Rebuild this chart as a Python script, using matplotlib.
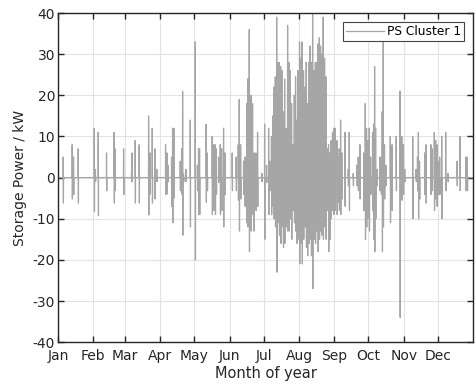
import numpy as np
import matplotlib.pyplot as plt

plt.rcParams['font.family'] = ['DejaVu Sans']
plt.rcParams['axes.unicode_minus'] = False

# Tagesspitzen der Speicherleistung (Tag im Jahr, max Laden, max Entladen) in kW
event_day = [4.7, 12.6, 13.8, 17.9, 32.0, 33.0, 35.5, 42.8, 49.5, 50.4, 57.8,
             64.8, 65.3, 68.0, 71.5, 79.8, 81.0, 83.0, 85.3, 87.0, 94.7, 95.9,
             97.0, 100.0, 100.9, 102.0, 107.6, 108.8, 109.7, 110.5, 112.6, 116.4,
             120.8, 122.7, 123.7, 124.6, 130.4, 131.4, 135.7, 136.9, 138.4, 139.3,
             141.3, 142.8, 144.0, 145.7, 146.9, 153.3, 156.8, 158.6, 159.5, 160.7,
             163.3, 164.5, 166.0, 167.0, 168.3, 169.8, 171.2, 172.4, 174.1, 175.6,
             179.4, 181.8, 183.5, 185.3,
             186.3, 187.8, 189.0, 190.0, 191.2, 192.4, 193.5, 194.7, 195.9, 197.0,
             198.2, 199.4, 200.6, 201.0, 202.0, 203.2, 204.4, 205.5, 206.7, 207.9,
             209.0, 210.2, 211.0, 212.5, 213.7, 214.8, 216.0, 217.2, 218.4, 219.5,
             220.7, 221.8, 222.8, 224.0, 225.2, 226.4, 227.5, 228.7, 229.9, 231.0,
             232.0, 233.3, 234.5, 235.7, 236.8, 238.0, 239.2, 240.3, 241.5, 242.7,
             243.8, 245.4, 246.5, 247.4, 248.6, 249.7, 252.4, 255.3, 256.2, 259.7,
             263.0, 264.1, 265.6, 268.9, 270.3, 271.4, 272.6, 273.8, 275.0, 276.7,
             277.6, 278.5, 279.4, 280.6, 283.0, 284.3, 285.2, 286.1, 287.2, 288.4,
             292.3, 293.8, 297.5, 300.8, 302.4, 303.8, 305.0, 312.0, 315.0, 316.2,
             317.0, 318.0, 322.5, 323.7, 328.0, 329.2, 331.0, 332.2, 333.3, 334.5,
             335.7, 337.5, 341.0, 343.0, 351.0, 353.6, 358.8, 360.0]
peak_charge = [5, 8, 5, 7, 12, 2, 11, 6, 11, 7, 7,
               1, 6, 9, 8, 15, 6, 12, 7, 2, 8, 6,
               3, 5, 12, 12, 4, 7, 21, 1, 2, 14,
               33, 3, 7, 7, 13, 6, 10, 8, 8, 7,
               5, 8, 7, 12, 6, 6, 5, 8, 19, 8,
               4, 5, 18, 24, 36, 20, 18, 6, 6, 11,
               1, 13, 3, 12,
               4, 10, 15, 22, 24.5, 39, 28, 28, 27, 26,
               16, 24, 12, 10, 37, 28, 26, 18, 8, 20,
               24.5, 14, 26, 33, 29, 33, 26, 22, 28, 18,
               28, 32, 28, 40, 26, 28, 28, 32.5, 34, 32,
               30, 39, 29, 24.5, 7, 8, 6, 9, 11, 12,
               12, 9, 5, 7, 14, 6, 11, 2, 11, 1,
               3, 5, 8, 6, 18, 12, 9, 12, 5, 11,
               13, 27, 12, 2, 5, 5, 16, 36, 8, 3,
               10, 8, 10, 21, 10, 8, 2, 10, 2, 5,
               11, 4, 6, 8, 8, 7, 11, 9, 8, 4,
               5, 10, 11, 1, 4, 10, 5, 5]
peak_discharge = [-6.2, -5.2, -4.1, -6.2, -8.3, -1, -9.3, -3.2, -6.2, -3.2, -4.1,
                  -1, -1, -6.2, -6.2, -9.1, -4, -6.2, -5.2, -1, -4.1, -4,
                  -1, -7, -11, -5, -3.2, -4, -14, -1, -1, -12,
                  -20, -3.2, -9, -9, -6, -3.2, -9, -8, -9, -4.1,
                  -1.2, -9, -8, -12, -4.1, -3.2, -3.2, -5.5, -13, -5.2,
                  -4.1, -7, -11, -12, -18, -13, -9, -13, -8, -7,
                  -1, -15, -1.2, -9,
                  -3.2, -9, -7, -10, -12, -23, -11, -14, -16, -12,
                  -17, -16, -12, -9, -13, -13, -10, -15, -8, -11,
                  -13, -16, -15, -21, -16, -21, -15, -12, -17, -19,
                  -16, -15, -19, -27, -15, -16, -13, -18, -15, -13,
                  -14, -15, -12, -15, -8, -18, -15, -10, -8, -9,
                  -8, -9, -6, -8, -9, -5.2, -7, -2, -8, -2,
                  -2, -3.2, -5.2, -8, -15, -12, -10, -13, -4.1, -8,
                  -15, -18, -10, -2, -3.2, -4.1, -18, -12, -5.2, -2,
                  -11, -8, -3.2, -34, -5.5, -4.1, -1, -10, -1, -3.2,
                  -10, -5.2, -4.1, -6.2, -4.1, -3.2, -8, -5.2, -7, -4.1,
                  -4.1, -10, -3.2, -1, -2, -3.2, -3.2, -3.2]

month_start = [0, 31, 59, 90, 120, 151, 181, 212, 243, 273, 304, 334]
month_labels = ['Jan', 'Feb', 'Mar', 'Apr', 'May', 'Jun',
                'Jul', 'Aug', 'Sep', 'Oct', 'Nov', 'Dec']

# Zeitreihe aufbauen: pro Ereignis Null -> Laden -> Entladen -> Null
t = [0.0]
p = [0.0]
for d, hi, lo in zip(event_day, peak_charge, peak_discharge):
    t += [d - 0.2, d - 0.1, d + 0.1, d + 0.2]
    p += [0.0, hi, lo, 0.0]
t.append(365.0)
p.append(0.0)
t = np.array(t)
p = np.array(p)

fig = plt.figure(figsize=(4.75, 3.84), dpi=100)
ax = fig.add_axes([0.122, 0.109, 0.874, 0.857])

ax.plot(t, p, color='#a6a6a6', linewidth=0.9, label='PS Cluster 1')

ax.set_xlim(0, 365)
ax.set_ylim(-40, 40)
ax.set_xticks(month_start)
ax.set_xticklabels(month_labels)
ax.set_yticks(np.arange(-40, 41, 10))
ax.set_xlabel('Month of year', fontsize=10.5, color='#262626', labelpad=2)
ax.set_ylabel('Storage Power / kW', fontsize=10, color='#262626', labelpad=4)

ax.grid(True, color='#e3e3e3', linewidth=0.8)
ax.set_axisbelow(True)
ax.tick_params(direction='in', top=True, right=True, length=4, width=1,
               labelsize=10, colors='#262626', pad=2)
ax.tick_params(axis='x', pad=5)
for s in ax.spines.values():
    s.set_color('#262626')
    s.set_linewidth(1.0)

leg = ax.legend(loc='upper right', fontsize=8.8, fancybox=False, framealpha=1,
                edgecolor='#444444', borderpad=0.25, handlelength=3.1,
                handletextpad=0.2, borderaxespad=0.75)
leg.get_frame().set_linewidth(0.8)

plt.savefig('out.png', dpi=100)
